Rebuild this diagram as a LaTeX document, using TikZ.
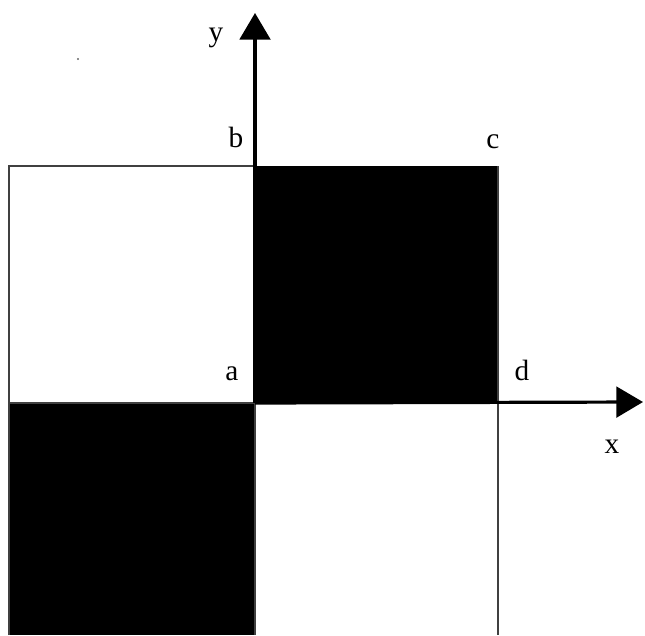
\documentclass[tikz,border=0pt]{standalone}
\usepackage{fontspec}
\setmainfont{Liberation Serif}
\usetikzlibrary{arrows.meta}
\begin{document}
\begin{tikzpicture}[x=0.75pt,y=-0.75pt,
  edge/.style={draw=black!75,line width=0.9pt},
  axis/.style={line width=2.4pt,-{Triangle[length=20pt,width=23pt]}},
  lbl/.style={font=\fontsize{22pt}{24pt}\selectfont,anchor=base,inner sep=0pt}]
\useasboundingbox (0,0) rectangle (645,635);
\coordinate (a) at (255,403);
\coordinate (b) at (255,166);
\coordinate (c) at (498,166);
\coordinate (d) at (498,403);
\coordinate (tl) at (9,166);
\coordinate (ml) at (9,403);
\coordinate (bl) at (9,635);
\coordinate (bm) at (255,635);
\coordinate (br) at (498,635);
\coordinate (ytip) at (255,13);
\coordinate (xtip) at (643,402);
% black squares
\fill[black] (a) rectangle (c);
\fill[black] (ml) rectangle (bm);
% thin outlines
\draw[edge] (bl) -- (tl) -- (b);
\draw[edge] (ml) -- (a) -- (d) -- (br);
\draw[edge] (a) -- (bm);
\draw[edge] (c) -- (d);
% axes
\draw[axis] (a) -- (ytip);
\draw[axis] (a) -- (xtip);
% labels
\node[lbl] (ly) at (216,42) {y};
\node[lbl] (lb) at (236,147) {b};
\node[lbl] (lc) at (493,148) {c};
\node[lbl] (la) at (232,380) {a};
\node[lbl] (ld) at (522,380) {d};
\node[lbl] (lx) at (612,453) {x};
% speck
\fill[black!60] (78,59) circle (0.9pt);
\end{tikzpicture}
\end{document}
